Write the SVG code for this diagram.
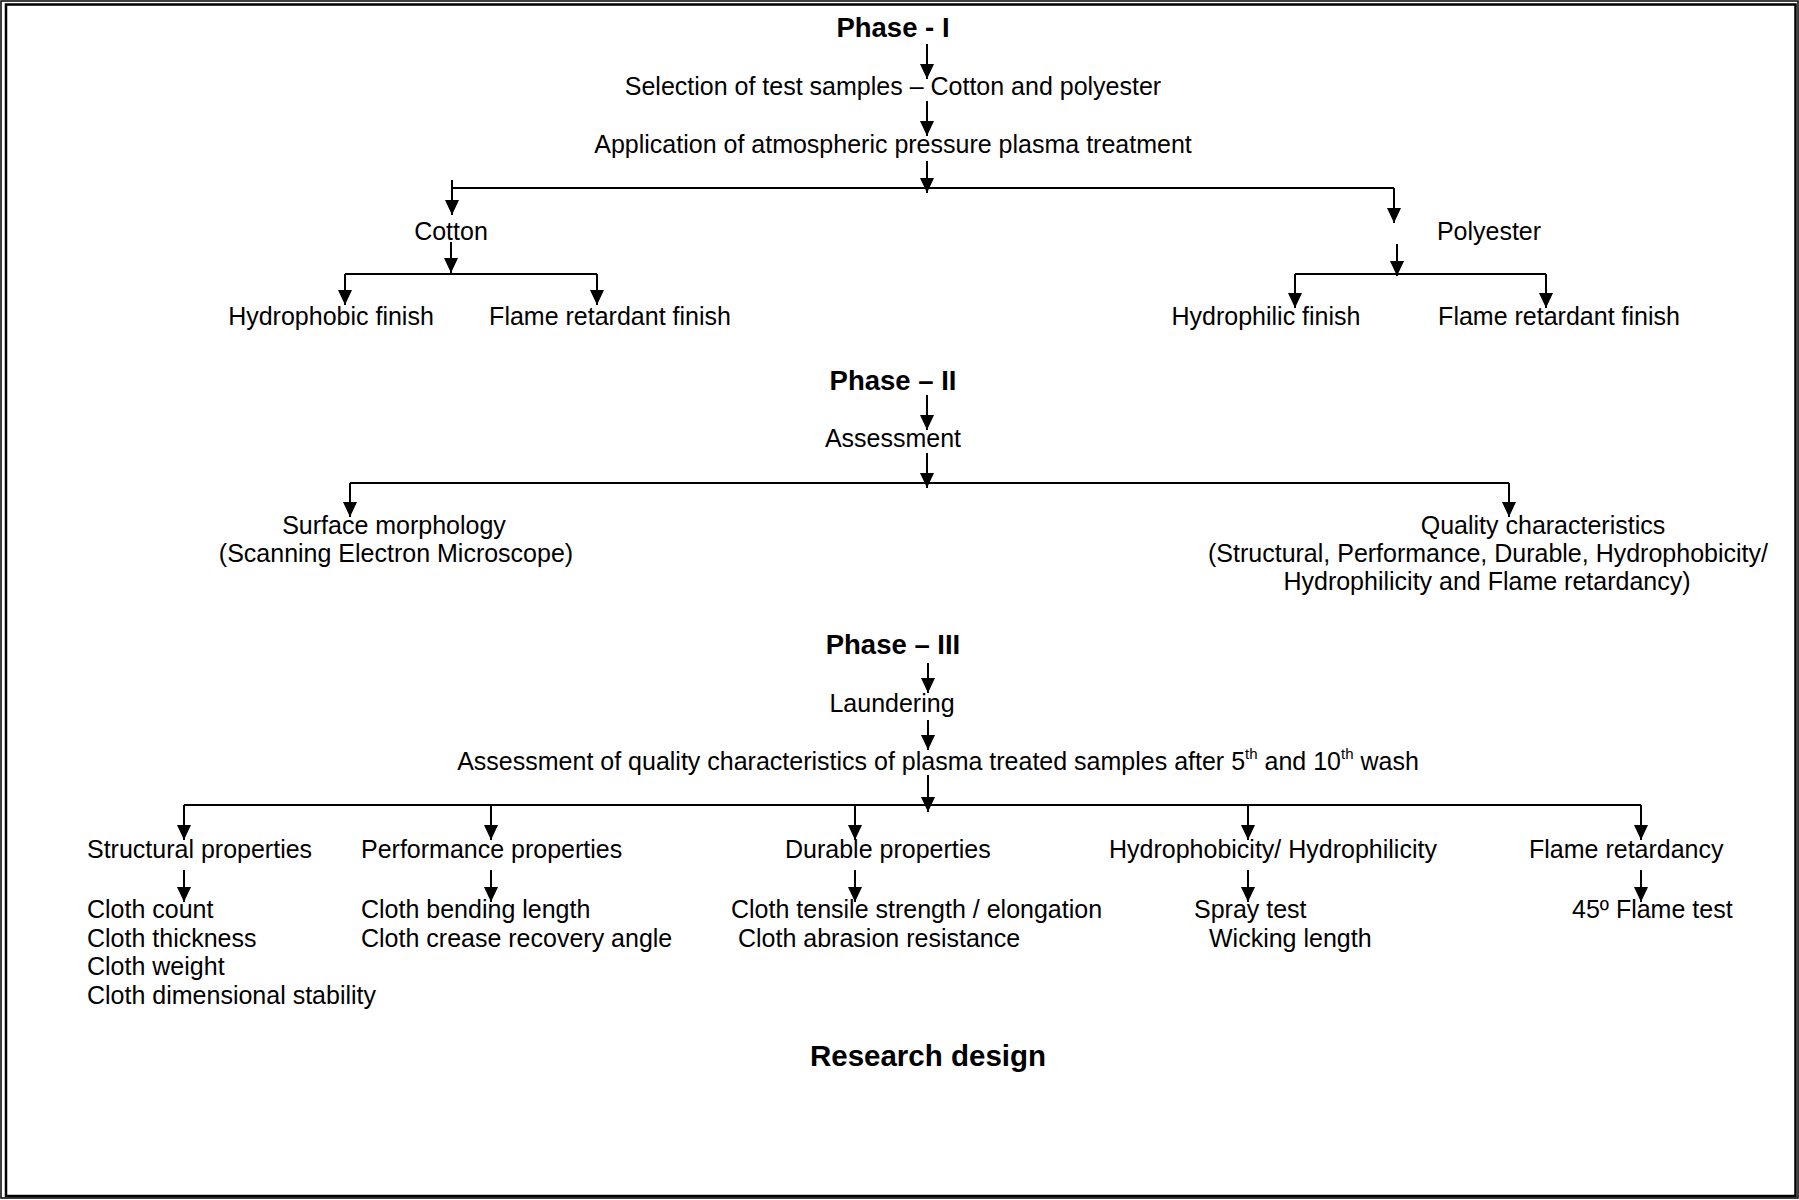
<svg xmlns="http://www.w3.org/2000/svg" width="1799" height="1200" viewBox="0 0 1799 1200">
<style>
text{font-family:"Liberation Sans",Arial,sans-serif;font-size:25px;fill:#000}
.c{text-anchor:middle}
.b{font-weight:bold;font-size:27.5px}
.t{font-weight:bold;font-size:29.5px}
.sup{font-size:15px}
#connectors line{stroke:#000;stroke-width:2;fill:none}
#connectors line.a{marker-end:url(#ah)}
</style>
<defs>
<marker id="ah" viewBox="0 0 15 14" refX="15" refY="7" markerWidth="15" markerHeight="14" markerUnits="userSpaceOnUse" orient="auto">
<path d="M0,0 L15,7 L0,14 Z" fill="#000"/>
</marker>
</defs>
<rect width="1799" height="1200" fill="#fff"/>
<g id="frame" fill="none" stroke="#000">
<rect x="1" y="1" width="1797" height="1197" stroke-width="1.5"/>
<rect x="6" y="4.5" width="1789.5" height="1191.5" stroke-width="2.5"/>
</g>
<g id="connectors">
<line class="a" x1="927" y1="44" x2="927" y2="79"/>
<line class="a" x1="927" y1="101" x2="927" y2="136"/>
<line class="a" x1="927" y1="161" x2="927" y2="193"/>
<line x1="452" y1="188" x2="1394" y2="188"/>
<line class="a" x1="452" y1="180" x2="452" y2="215"/>
<line class="a" x1="1394" y1="188" x2="1394" y2="223"/>
<line class="a" x1="451" y1="242" x2="451" y2="273"/>
<line x1="345" y1="274" x2="597" y2="274"/>
<line class="a" x1="345" y1="274" x2="345" y2="305"/>
<line class="a" x1="597" y1="274" x2="597" y2="305"/>
<line class="a" x1="1397" y1="244" x2="1397" y2="276"/>
<line x1="1295" y1="274" x2="1546" y2="274"/>
<line class="a" x1="1295" y1="274" x2="1295" y2="308"/>
<line class="a" x1="1546" y1="274" x2="1546" y2="308"/>
<line class="a" x1="927" y1="395" x2="927" y2="430"/>
<line class="a" x1="927" y1="453" x2="927" y2="488"/>
<line x1="350" y1="483" x2="1509" y2="483"/>
<line class="a" x1="350" y1="483" x2="350" y2="517"/>
<line class="a" x1="1509" y1="483" x2="1509" y2="517"/>
<line class="a" x1="928" y1="663" x2="928" y2="693"/>
<line class="a" x1="928" y1="720" x2="928" y2="750"/>
<line class="a" x1="928" y1="775" x2="928" y2="812"/>
<line x1="184" y1="805" x2="1641" y2="805"/>
<line class="a" x1="184" y1="805" x2="184" y2="840"/>
<line class="a" x1="491" y1="805" x2="491" y2="840"/>
<line class="a" x1="855" y1="805" x2="855" y2="840"/>
<line class="a" x1="1248" y1="805" x2="1248" y2="840"/>
<line class="a" x1="1641" y1="805" x2="1641" y2="840"/>
<line class="a" x1="184" y1="870" x2="184" y2="902"/>
<line class="a" x1="491" y1="870" x2="491" y2="902"/>
<line class="a" x1="855" y1="870" x2="855" y2="902"/>
<line class="a" x1="1248" y1="870" x2="1248" y2="902"/>
<line class="a" x1="1641" y1="870" x2="1641" y2="902"/>
</g>
<g id="phase1"><text class="c b" x="893" y="37">Phase - I</text></g>
<g id="selection"><text class="c" x="893" y="95">Selection of test samples – Cotton and polyester</text></g>
<g id="application"><text class="c" x="893" y="153">Application of atmospheric pressure plasma treatment</text></g>
<g id="cotton"><text class="c" x="451" y="240">Cotton</text></g>
<g id="polyester"><text class="c" x="1489" y="240">Polyester</text></g>
<g id="hydrophobic-finish"><text class="c" x="331" y="325">Hydrophobic finish</text></g>
<g id="cotton-flame"><text class="c" x="610" y="325">Flame retardant finish</text></g>
<g id="hydrophilic-finish"><text class="c" x="1266" y="325">Hydrophilic finish</text></g>
<g id="polyester-flame"><text class="c" x="1559" y="325">Flame retardant finish</text></g>
<g id="phase2"><text class="c b" x="893" y="390">Phase – II</text></g>
<g id="assessment"><text class="c" x="893" y="447">Assessment</text></g>
<g id="surface"><text class="c" x="394" y="534">Surface morphology</text><text class="c" x="396" y="562">(Scanning Electron Microscope)</text></g>
<g id="quality"><text class="c" x="1543" y="534">Quality characteristics</text><text class="c" x="1488" y="562">(Structural, Performance, Durable, Hydrophobicity/</text><text class="c" x="1487" y="590">Hydrophilicity and Flame retardancy)</text></g>
<g id="phase3"><text class="c b" x="893" y="654">Phase – III</text></g>
<g id="laundering"><text class="c" x="892" y="712">Laundering</text></g>
<g id="assessment-wash"><text class="c" x="938" y="770">Assessment of quality characteristics of plasma treated samples after 5<tspan class="sup" dy="-11">th</tspan><tspan dy="11"> and 10</tspan><tspan class="sup" dy="-11">th</tspan><tspan dy="11"> wash</tspan></text></g>
<g id="structural"><text x="87" y="858">Structural properties</text></g>
<g id="performance"><text x="361" y="858">Performance properties</text></g>
<g id="durable"><text x="785" y="858">Durable properties</text></g>
<g id="hydro"><text x="1109" y="858">Hydrophobicity/ Hydrophilicity</text></g>
<g id="flame"><text x="1529" y="858">Flame retardancy</text></g>
<g id="structural-tests"><text x="87" y="918">Cloth count</text><text x="87" y="947">Cloth thickness</text><text x="87" y="975">Cloth weight</text><text x="87" y="1004">Cloth dimensional stability</text></g>
<g id="performance-tests"><text x="361" y="918">Cloth bending length</text><text x="361" y="947">Cloth crease recovery angle</text></g>
<g id="durable-tests"><text x="731" y="918">Cloth tensile strength / elongation</text><text x="738" y="947">Cloth abrasion resistance</text></g>
<g id="hydro-tests"><text x="1194" y="918">Spray test</text><text x="1209" y="947">Wicking length</text></g>
<g id="flame-tests"><text x="1572" y="918">45º Flame test</text></g>
<g id="caption"><text class="c t" x="928" y="1066">Research design</text></g>
</svg>
